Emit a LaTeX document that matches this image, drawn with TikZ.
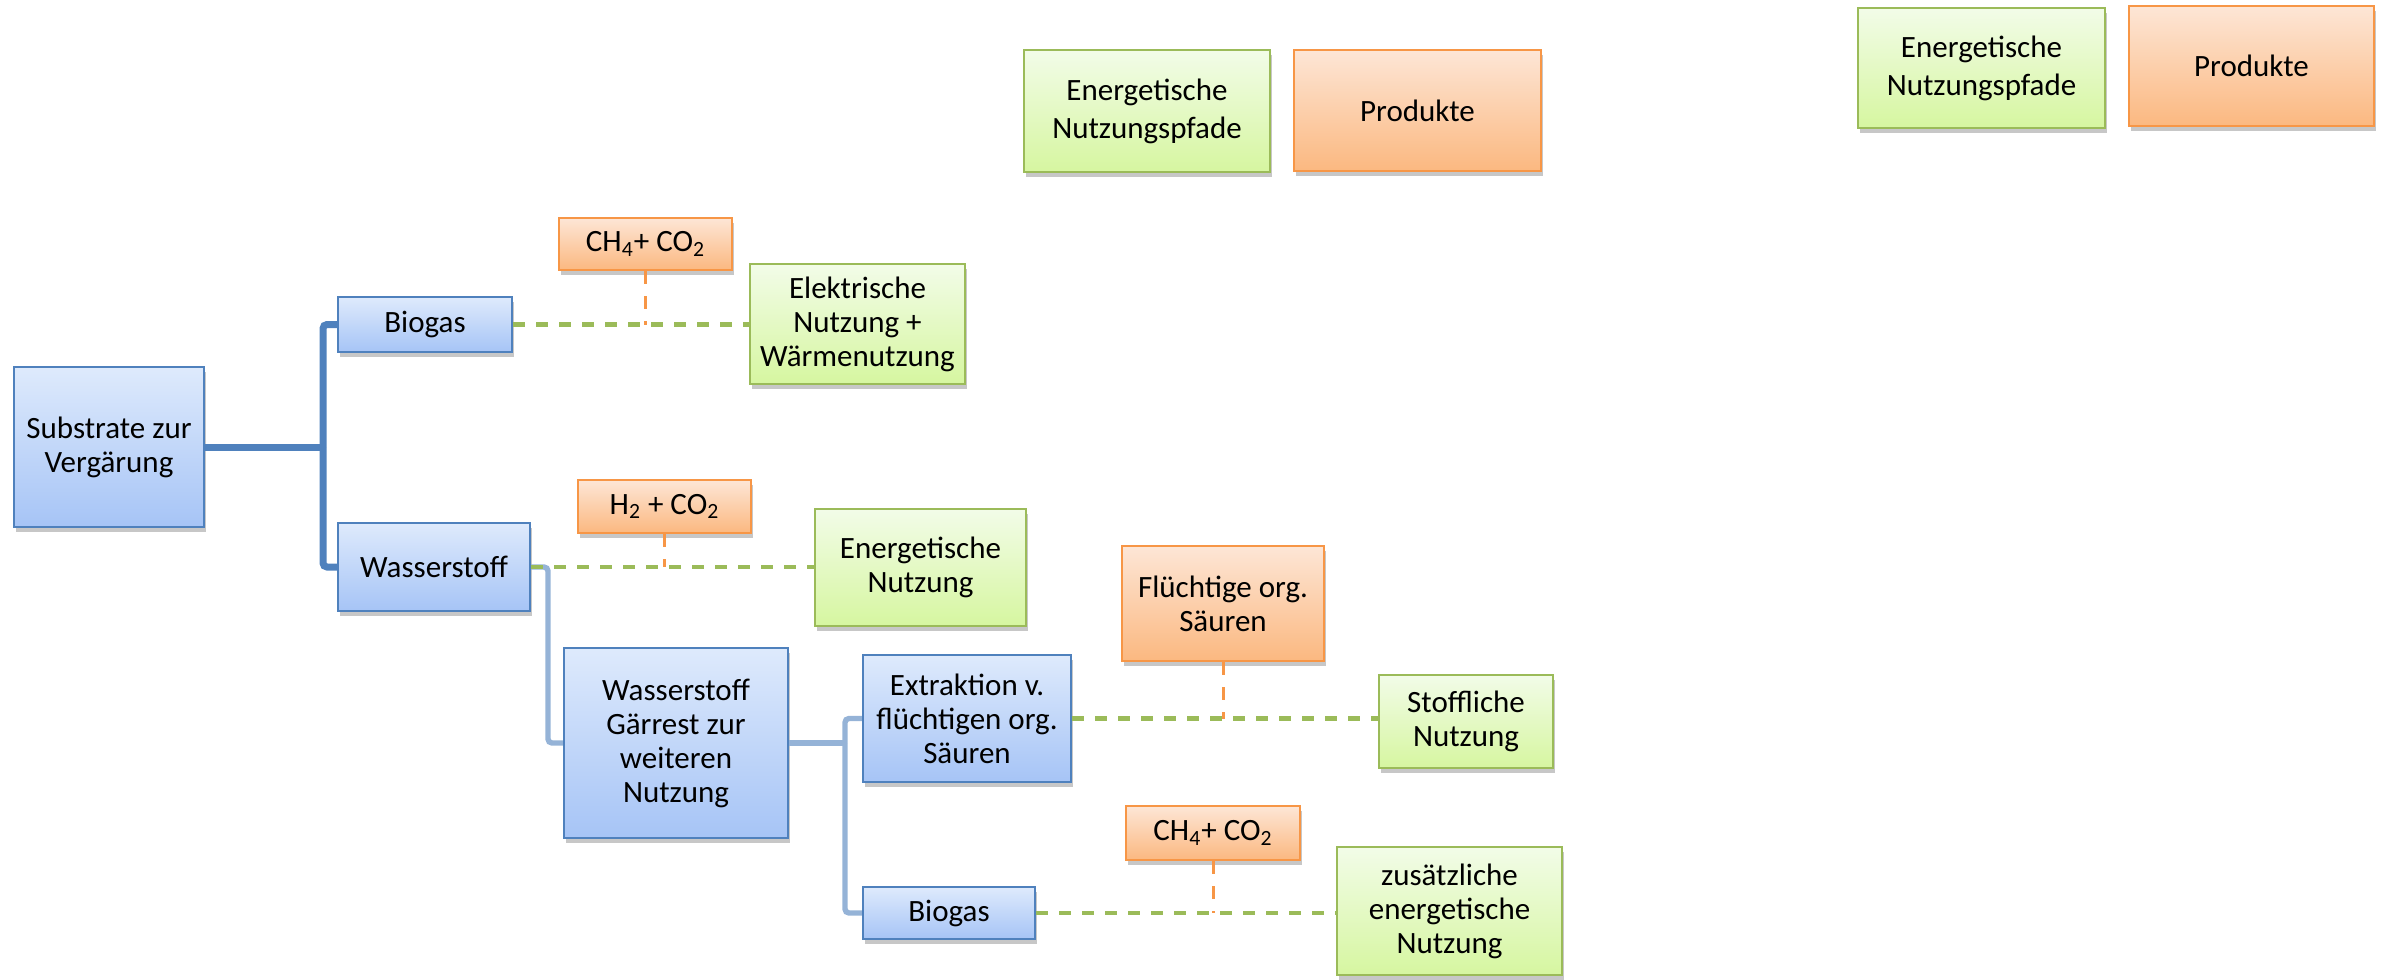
\documentclass[tikz,border=0pt]{standalone}
\usepackage{fontspec}
\setmainfont{Carlito}
\usetikzlibrary{shadows,calc}
\definecolor{bborder}{RGB}{79,129,189}
\definecolor{btop}{RGB}{222,234,252}
\definecolor{bbot}{RGB}{166,196,246}
\definecolor{gborder}{RGB}{155,187,89}
\definecolor{gtop}{RGB}{242,252,232}
\definecolor{gbot}{RGB}{214,246,160}
\definecolor{oborder}{RGB}{247,150,70}
\definecolor{otop}{RGB}{253,230,214}
\definecolor{obot}{RGB}{251,184,128}
\definecolor{lblue}{RGB}{149,179,215}
\tikzset{
  basebox/.style={draw, line width=1.2pt, align=center, inner sep=2pt,
    font=\fontsize{15.5pt}{17pt}\selectfont,
    drop shadow={shadow xshift=1pt, shadow yshift=-2.5pt, opacity=0.22, fill=black}},
  bluebox/.style={basebox, draw=bborder, top color=btop, bottom color=bbot},
  greenbox/.style={basebox, draw=gborder, top color=gtop, bottom color=gbot},
  orangebox/.style={basebox, draw=oborder, top color=otop, bottom color=obot},
  legendtxt/.style={font=\fontsize{15.5pt}{19pt}\selectfont},
  trunk/.style={draw=bborder, line width=3.5pt, rounded corners=2pt},
  branch/.style={draw=lblue, line width=2.7pt, rounded corners=2pt},
  gdash/.style={draw=gborder, line width=2.3pt, dash pattern=on 6pt off 5.5pt},
  odash/.style={draw=oborder, line width=1.5pt, dash pattern=on 6.5pt off 6pt},
}
\begin{document}
\begin{tikzpicture}[x=0.5pt,y=-0.5pt]
\useasboundingbox (0,0) rectangle (2390,980);
% legends
\node[greenbox, legendtxt, minimum width=123pt, minimum height=61pt] (leg1g) at (1147,111) {Energetische\\Nutzungspfade};
\node[orangebox, legendtxt, minimum width=123.5pt, minimum height=60.5pt] (leg1o) at (1417.5,110.5) {Produkte};
\node[greenbox, legendtxt, minimum width=123.5pt, minimum height=60pt] (leg2g) at (1981.5,68) {Energetische\\Nutzungspfade};
\node[orangebox, legendtxt, minimum width=122.5pt, minimum height=60pt] (leg2o) at (2251.5,66) {Produkte};
% main nodes
\node[bluebox, minimum width=95pt, minimum height=80pt] (sub) at (109,447) {Substrate zur\\Vergärung};
\node[bluebox, minimum width=87pt, minimum height=27.5pt] (bio1) at (425,324.5) {Biogas};
\node[orangebox, minimum width=86.5pt, minimum height=26pt] (ch1) at (645.5,244) {CH\textsubscript{4}+ CO\textsubscript{2}};
\node[greenbox, minimum width=107.5pt, minimum height=60pt] (elek) at (857.5,324) {Elektrische\\Nutzung +\\Wärmenutzung};
\node[bluebox, minimum width=96pt, minimum height=44pt] (wass) at (434,567) {Wasserstoff};
\node[orangebox, minimum width=86.5pt, minimum height=26.5pt] (h2) at (664.5,506.5) {H\textsubscript{2} + CO\textsubscript{2}};
\node[greenbox, minimum width=105.5pt, minimum height=58.5pt] (ener) at (920.5,567.5) {Energetische\\Nutzung};
\node[bluebox, minimum width=112pt, minimum height=95pt] (gaer) at (676,743) {Wasserstoff\\Gärrest zur\\weiteren\\Nutzung};
\node[bluebox, minimum width=104pt, minimum height=63.5pt] (extr) at (967,718.5) {Extraktion v.\\flüchtigen org.\\Säuren};
\node[orangebox, minimum width=101pt, minimum height=57.5pt] (flue) at (1223,603.5) {Flüchtige org.\\Säuren};
\node[greenbox, minimum width=87pt, minimum height=46.5pt] (stof) at (1466,721.5) {Stoffliche\\Nutzung};
\node[orangebox, minimum width=87pt, minimum height=27pt] (ch2) at (1213,833) {CH\textsubscript{4}+ CO\textsubscript{2}};
\node[greenbox, minimum width=112.5pt, minimum height=64pt] (zus) at (1449.5,911) {zusätzliche\\energetische\\Nutzung};
\node[bluebox, minimum width=86pt, minimum height=26pt] (bio2) at (949,913) {Biogas};
% tree connectors
\coordinate (j1) at (323,447);
\draw[trunk] (sub.east) -- (j1);
\draw[trunk] (j1) |- (bio1.west);
\draw[trunk] (j1) |- (wass.west);
\coordinate (j2) at (548,567);
\draw[branch] (wass.east) -- (j2) |- (gaer.west);
\coordinate (j3) at (845,743);
\draw[branch] (gaer.east) -- (j3);
\draw[branch] (j3) |- (extr.west);
\draw[branch] (j3) |- (bio2.west);
% dashed connectors
\draw[gdash] (bio1.east) -- (bio1.east -| elek.west);
\draw[odash] (ch1.south) -- (ch1.south |- bio1.east);
\draw[gdash] (wass.east) -- (wass.east -| ener.west);
\draw[odash] (h2.south) -- (h2.south |- wass.east);
\draw[gdash] (extr.east) -- (extr.east -| stof.west);
\draw[odash] (flue.south) -- (flue.south |- extr.east);
\draw[gdash] (bio2.east) -- (bio2.east -| zus.west);
\draw[odash] (ch2.south) -- (ch2.south |- bio2.east);
\end{tikzpicture}
\end{document}
